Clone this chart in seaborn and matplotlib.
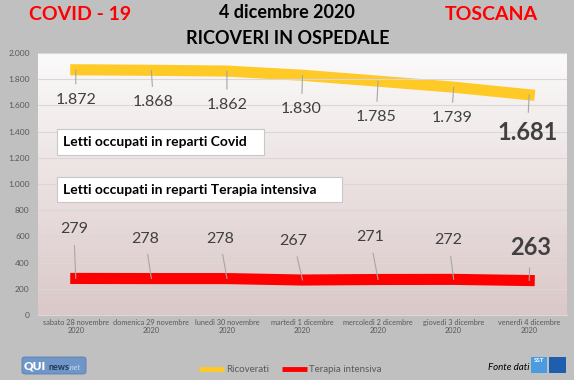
import numpy as np
import pandas as pd
import matplotlib
matplotlib.use("Agg")
import matplotlib.pyplot as plt
import seaborn as sns
from matplotlib.patches import Rectangle, FancyBboxPatch
from matplotlib.lines import Line2D

# data
days = ["sabato 28 novembre\n2020", "domenica 29 novembre\n2020", "lunedì 30 novembre\n2020",
        "martedì 1 dicembre\n2020", "mercoledì 2 dicembre\n2020", "giovedì 3 dicembre\n2020",
        "venerdì 4 dicembre\n2020"]
ricoverati = [1872, 1868, 1862, 1830, 1785, 1739, 1681]
terapia_intensiva = [279, 278, 278, 267, 271, 272, 263]
y_ticks = [0, 200, 400, 600, 800, 1000, 1200, 1400, 1600, 1800, 2000]

# label offsets in pixels (dx, dy) for the data labels
ric_dx = [0, 2, 0, -1, -2, -2, -2]
ric_dy = [-30, -32, -34, -34, -36, -31, -38]
ti_dx = [-2, -6, -7, -9, -8, -5, 1]
ti_dy = [49, 40, 40, 39, 42, 39, 33]

YELLOW = "#ffc926"
RED = "#ff0000"
GRAY_TXT = "#595959"
LABEL_TXT = "#404040"


def fmt(v):
    return f"{v:,}".replace(",", ".")


sns.set_style("white")
plt.rcParams["font.family"] = ["Lato", "DejaVu Sans"]

df = pd.DataFrame({
    "pos": list(range(len(days))) * 2,
    "valore": ricoverati + terapia_intensiva,
    "serie": ["Ricoverati"] * len(days) + ["Terapia intensiva"] * len(days),
})

fig = plt.figure(figsize=(5.74, 3.80), dpi=100, facecolor="#c0c0c0")
ax = fig.add_axes([38 / 574, 1 - 315 / 380, 529 / 574, 262 / 380])

# gradient background of the plot area
grad = np.linspace(0, 1, 256)[:, None]
top = np.array([251, 250, 250]) / 255
bot = np.array([219, 200, 200]) / 255
img = top[None, None, :] * (1 - grad[:, :, None]) + bot[None, None, :] * grad[:, :, None]
ax.imshow(img, extent=[0, 1, 0, 1], transform=ax.transAxes, aspect="auto", zorder=0)

sns.lineplot(data=df, x="pos", y="valore", hue="serie", palette=[YELLOW, RED],
             linewidth=8, legend=False, ax=ax, zorder=2)
for ln in ax.lines:
    ln.set_solid_capstyle("projecting")

ax.set_xlim(-0.5, len(days) - 0.5)
ax.set_ylim(0, 2000)
ax.set_yticks(y_ticks)
ax.set_yticklabels([fmt(t) for t in y_ticks])
ax.set_xticks(range(len(days)))
ax.set_xticklabels(days)
ax.set_xticks(np.arange(-0.5, len(days), 1.0), minor=True)
ax.tick_params(axis="x", which="major", length=0, labelsize=5.3, colors=GRAY_TXT, pad=3)
ax.tick_params(axis="x", which="minor", length=3, color="#d0d0d0", width=0.8)
ax.tick_params(axis="y", length=0, labelsize=6, colors=GRAY_TXT, pad=6)
ax.grid(axis="y", color="#dcd6d6", linewidth=0.8, zorder=1)
ax.set_axisbelow(False)
for s in ["top", "right", "left"]:
    ax.spines[s].set_visible(False)
ax.spines["bottom"].set_color("#d9d9d9")
ax.set_xlabel("")
ax.set_ylabel("")

# data labels with leader lines
leader = dict(arrowstyle="-", color="#a6a6a6", lw=0.8, shrinkA=4, shrinkB=0)
last = len(days) - 1
for i, v in enumerate(ricoverati):
    big = i == last
    ax.annotate(fmt(v), xy=(i, v), xytext=(ric_dx[i], ric_dy[i]), textcoords="offset pixels",
                ha="center", va="center", fontsize=17 if big else 11.5,
                fontweight="bold" if big else "normal", color=LABEL_TXT,
                arrowprops=leader, zorder=4)
for i, v in enumerate(terapia_intensiva):
    big = i == last
    ax.annotate(fmt(v), xy=(i, v), xytext=(ti_dx[i], ti_dy[i]), textcoords="offset pixels",
                ha="center", va="center", fontsize=17 if big else 11.5,
                fontweight="bold" if big else "normal", color=LABEL_TXT,
                arrowprops=leader, zorder=4)

# white text boxes
for (x0, y0, w, h, txt) in [(0.036, 0.611, 0.391, 0.099, "Letti occupati in reparti Covid"),
                            (0.036, 0.431, 0.539, 0.095, "Letti occupati in reparti Terapia intensiva")]:
    ax.add_patch(Rectangle((x0, y0), w, h, transform=ax.transAxes, facecolor="white",
                           edgecolor="#c8c8c8", linewidth=0.8, zorder=5))
    ax.text(x0 + 0.011, y0 + h / 2, txt, transform=ax.transAxes, ha="left", va="center",
            fontsize=10, fontweight="bold", color="black", zorder=6)

# titles
fig.text(80 / 574, 1 - 15 / 380, "COVID - 19", ha="center", va="center",
         fontsize=14, fontweight="bold", color=RED)
fig.text(491 / 574, 1 - 15 / 380, "TOSCANA", ha="center", va="center",
         fontsize=14, fontweight="bold", color=RED)
fig.text(287 / 574, 1 - 12 / 380, "4 dicembre 2020", ha="center", va="center",
         fontsize=13, fontweight="bold", color="black")
fig.text(288 / 574, 1 - 38 / 380, "RICOVERI IN OSPEDALE", ha="center", va="center",
         fontsize=13, fontweight="bold", color="black")

# legend
handles = [Line2D([], [], color=YELLOW, lw=3.5, solid_capstyle="butt"),
           Line2D([], [], color=RED, lw=3.5, solid_capstyle="butt")]
leg = fig.legend(handles, ["Ricoverati", "Terapia intensiva"], loc="center",
                 bbox_to_anchor=(290 / 574, 1 - 370 / 380), ncol=2, frameon=False,
                 fontsize=7, handlelength=2.6, handletextpad=0.2, columnspacing=1.3)
for t in leg.get_texts():
    t.set_color(GRAY_TXT)

# QUInews logo
fig.patches.append(FancyBboxPatch((22 / 574, 1 - 374 / 380), 64 / 574, 17 / 380,
                                  boxstyle="round,pad=0,rounding_size=0.006",
                                  transform=fig.transFigure, facecolor="#7096c8",
                                  edgecolor="#5a7fb0", linewidth=0.6))
fig.text(24 / 574, 1 - 366 / 380, "QUI", ha="left", va="center", fontsize=8.5,
         fontweight="heavy", color="white")
fig.text(48 / 574, 1 - 367 / 380, "news", ha="left", va="center", fontsize=6.5,
         fontweight="bold", color="#1f3558")
fig.text(69 / 574, 1 - 367 / 380, ".net", ha="left", va="center", fontsize=5.5,
         style="italic", color="#c8daf0")

# Fonte dati + SST logo
fig.text(529 / 574, 1 - 367 / 380, "Fonte dati", ha="right", va="center", fontsize=7,
         style="italic", color="black")
fig.patches.append(Rectangle((531 / 574, 1 - 373 / 380), 16 / 574, 16 / 380,
                             transform=fig.transFigure, facecolor="#4a9be0", edgecolor="none"))
fig.patches.append(Rectangle((549 / 574, 1 - 373 / 380), 17 / 574, 16 / 380,
                             transform=fig.transFigure, facecolor="#1d5fae", edgecolor="none"))
fig.text(539 / 574, 1 - 361 / 380, "SST", ha="center", va="center", fontsize=4.5,
         fontweight="bold", color="white")

fig.savefig("out.png", dpi=100, facecolor=fig.get_facecolor())
